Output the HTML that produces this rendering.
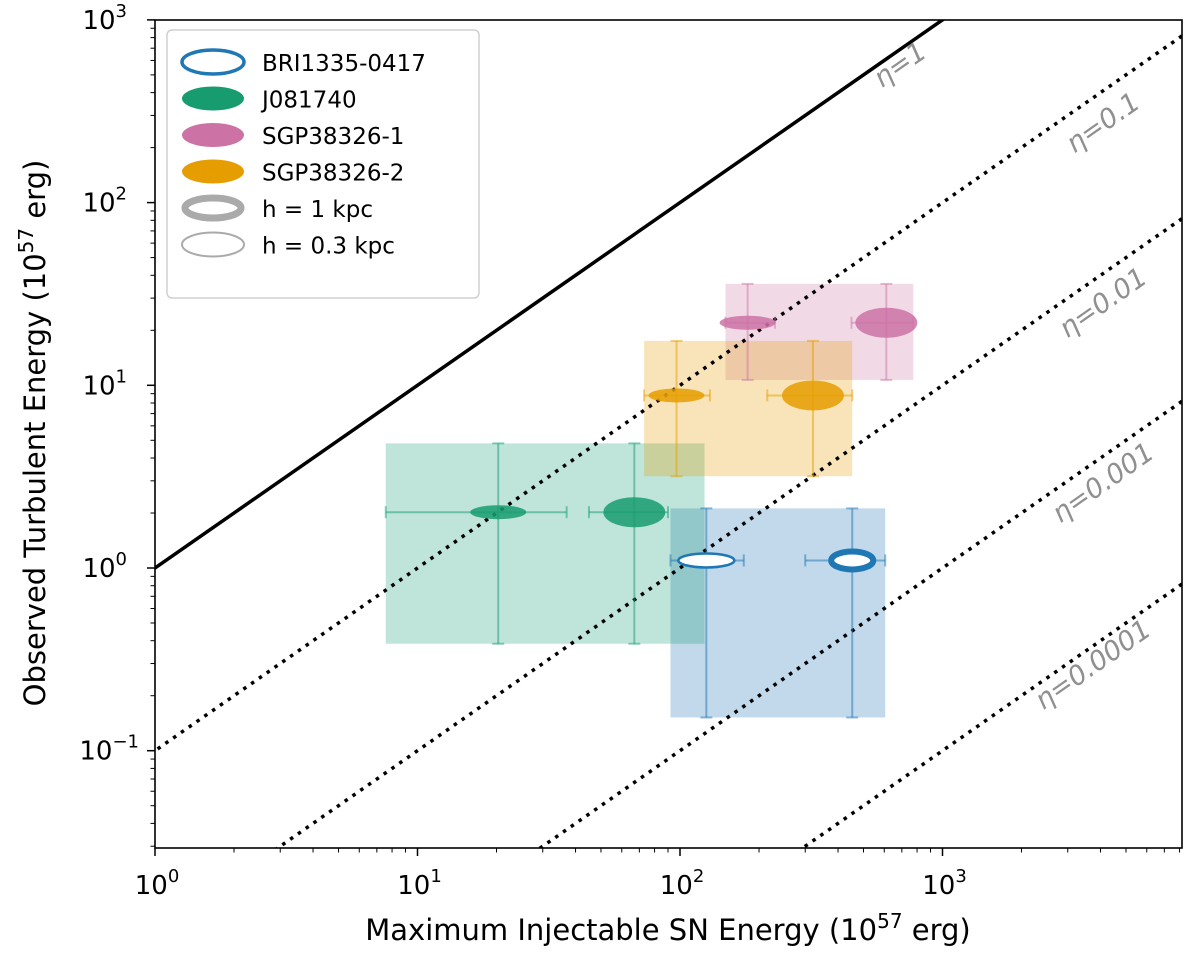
<!DOCTYPE html>
<html><head><meta charset="utf-8"><style>html,body{margin:0;background:#fff;overflow:hidden}svg{display:block;font-family:"DejaVu Sans","Liberation Sans",sans-serif}</style></head>
<body>
<svg id="c" width="1200" height="955" viewBox="0 0 1200 955"></svg>
<script>
const xTicks=[1,10,100,1000];
const yTicks=[0.1,1,10,100,1000];
const etas=[1,0.1,0.01,0.001,0.0001];
const etaLabels=["η=1","η=0.1","η=0.01","η=0.001","η=0.0001"];
const sources=["BRI1335-0417","J081740","SGP38326-1","SGP38326-2"];
const colors=["#1f77b4","#1a9e77","#cc79a7","#e69f00"];
const fills=["none","#179c6f","#cc72a5","#e69d00"];
const smallX=[126,20.3,181,97];
const bigX=[453,67,611,321];
const yVal=[1.1,2.02,22,8.8];
const boxX0=[92,7.57,149,73];
const boxX1=[605,124,774,453];
const boxY0=[0.152,0.385,10.7,3.18];
const boxY1=[2.12,4.81,35.9,17.5];
const smallXlo=[92,7.57,149,73];
const smallXhi=[175,37,230,130];
const bigXlo=[300,45,450,215];
const bigXhi=[605,90,774,453];
const L=155,R=1182,T=20,B=848;
const X=v=>155+Math.log10(v)*262.5;
const Y=v=>568-Math.log10(v)*182.7;
const s=document.getElementById('c');const NS="http://www.w3.org/2000/svg";
function el(t,a,p){const e=document.createElementNS(NS,t);for(const k in a)e.setAttribute(k,a[k]);(p||s).appendChild(e);return e;}
const defs=el('defs',{});const cp=el('clipPath',{id:'clip'},defs);el('rect',{x:L,y:T,width:R-L,height:B-T},cp);
const g=el('g',{'clip-path':'url(#clip)'});
for(let i=0;i<4;i++){
 const r=el('rect',{x:X(boxX0[i]),y:Y(boxY1[i]),width:X(boxX1[i])-X(boxX0[i]),height:Y(boxY0[i])-Y(boxY1[i]),fill:colors[i],opacity:0.28},g);
 
 
}
etas.forEach((e,i)=>{
 const ln=el('line',{x1:X(0.1),y1:Y(0.1*e),x2:X(1e5),y2:Y(1e5*e),stroke:'#000','stroke-width':3.5,'stroke-dasharray':i==0?'':'3.5 6'},g);
 
 
});
function ebar(i,xv,xlo,xhi){
 const c=colors[i],y=Y(yVal[i]),x=X(xv);
 el('line',{x1:x,y1:Y(boxY0[i]),x2:x,y2:Y(boxY1[i]),stroke:c,'stroke-width':2,opacity:0.5},g);
 el('line',{x1:x-6,y1:Y(boxY0[i]),x2:x+6,y2:Y(boxY0[i]),stroke:c,'stroke-width':2,opacity:0.5},g);
 el('line',{x1:x-6,y1:Y(boxY1[i]),x2:x+6,y2:Y(boxY1[i]),stroke:c,'stroke-width':2,opacity:0.5},g);
 el('line',{x1:X(xlo),y1:y,x2:X(xhi),y2:y,stroke:c,'stroke-width':2,opacity:0.5},g);
 el('line',{x1:X(xlo),y1:y-6,x2:X(xlo),y2:y+6,stroke:c,'stroke-width':2,opacity:0.5},g);
 el('line',{x1:X(xhi),y1:y-6,x2:X(xhi),y2:y+6,stroke:c,'stroke-width':2,opacity:0.5},g);
}
for(let i=0;i<4;i++){
 ebar(i,smallX[i],smallXlo[i],smallXhi[i]);ebar(i,bigX[i],bigXlo[i],bigXhi[i]);
 const y=Y(yVal[i]);
 const e1=el('ellipse',{cx:X(smallX[i]),cy:y,rx:28,ry:7,fill:i==0?'#fff':fills[i],stroke:i==0?colors[0]:'none','stroke-width':2.5,opacity:i==0?1:0.85},g);
 
 
 const e2=el('ellipse',{cx:X(bigX[i]),cy:y,rx:i==0?21:31,ry:i==0?9:15,fill:i==0?'#fff':fills[i],stroke:i==0?colors[0]:'none','stroke-width':6,opacity:i==0?1:0.85},g);
 
 
}
const labPos=[[905,72],[1108,130],[1108,310],[1108,490],[1098,672]];
etaLabels.forEach((t,i)=>{
 const tx=el('text',{x:labPos[i][0],y:labPos[i][1],fill:'#909090','font-size':27,'text-anchor':'middle','font-style':'italic',transform:`rotate(-35 ${labPos[i][0]} ${labPos[i][1]})`});tx.textContent=t;
 
 
});
el('rect',{x:L,y:T,width:R-L,height:B-T,fill:'none',stroke:'#000','stroke-width':1.6});
function sup(x,y,b,e,anchor){const t=el('text',{x:x,y:y,'font-size':26,'text-anchor':anchor});t.innerHTML=b+'<tspan dy="-12" font-size="18">'+e+'</tspan>';return t;}
xTicks.forEach(v=>{const x=X(v);el('line',{x1:x,y1:B,x2:x,y2:B+8,stroke:'#000','stroke-width':1.5});const t=sup(x+2,B+46,'10',Math.log10(v),'middle');});
for(let d=0;d<4;d++)for(let m=2;m<10;m++){const x=X(m*Math.pow(10,d));if(x<R)el('line',{x1:x,y1:B,x2:x,y2:B+4.5,stroke:'#000','stroke-width':1});}
yTicks.forEach(v=>{const y=Y(v);el('line',{x1:L-8,y1:y,x2:L,y2:y,stroke:'#000','stroke-width':1.5});const lg=Math.log10(v);const t=sup(lg<0?L-16:L-28,y+9,'10',lg<0?'−1':lg,'end');});
for(let d=-2;d<3;d++)for(let m=2;m<10;m++){const y=Y(m*Math.pow(10,d));if(y>T&&y<B)el('line',{x1:L-4.5,y1:y,x2:L,y2:y,stroke:'#000','stroke-width':1});}
const xt=el('text',{x:668,y:940,'font-size':29,'text-anchor':'middle'});xt.innerHTML='Maximum Injectable SN Energy (10<tspan dy="-12" font-size="20">57</tspan><tspan dy="12"> erg)</tspan>';

const yt=el('text',{x:0,y:0,'font-size':29,'text-anchor':'middle',transform:'translate(45 433) rotate(-90)'});yt.innerHTML='Observed Turbulent Energy (10<tspan dy="-12" font-size="20">57</tspan><tspan dy="12"> erg)</tspan>';

const lg=el('g',{});
el('rect',{x:167,y:30,width:312,height:268,rx:5,fill:'#fff',stroke:'#ccc','stroke-width':1.5,opacity:0.9},lg);
const legN=[...sources,'h = 1 kpc','h = 0.3 kpc'];
legN.forEach((n,i)=>{const y=62+i*36.5;
 let a={cx:213,cy:y,rx:31,ry:12};
 if(i==0)Object.assign(a,{fill:'#fff',stroke:colors[0],'stroke-width':3.5});
 else if(i<4)Object.assign(a,{fill:fills[i]});
 else if(i==4)Object.assign(a,{fill:'#fff',stroke:'#aaa','stroke-width':7,rx:28,ry:10});
 else Object.assign(a,{fill:'#fff',stroke:'#aaa','stroke-width':2});
 el('ellipse',a,lg);
 const t=el('text',{x:262,y:y+9,'font-size':23},lg);t.textContent=n;
 
});
</script>
</body></html>
